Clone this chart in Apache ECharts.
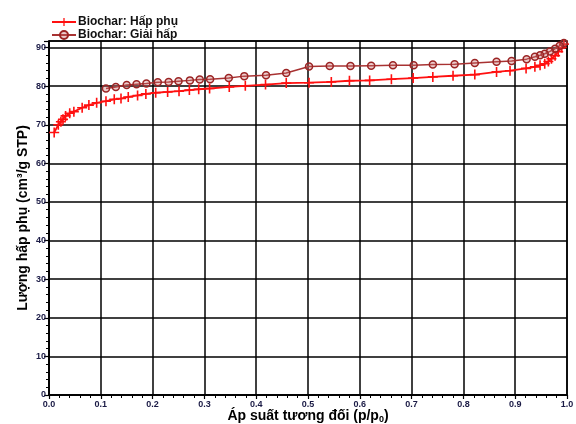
<!DOCTYPE html>
<html><head><meta charset="utf-8">
<script src="https://cdn.jsdelivr.net/npm/echarts@6/dist/echarts.min.js"></script>
<style>html,body{margin:0;padding:0;background:#fff}#c{width:576px;height:424px}</style>
</head><body><div id="c"></div>
<script>
const adsX = [0.010,0.018,0.023,0.027,0.032,0.040,0.048,0.064,0.077,0.092,0.110,0.126,0.139,0.153,0.171,0.187,0.206,0.229,0.251,0.271,0.289,0.310,0.348,0.379,0.418,0.458,0.502,0.545,0.580,0.619,0.661,0.703,0.741,0.780,0.822,0.864,0.890,0.921,0.938,0.948,0.957,0.964,0.970,0.977,0.983,0.990,0.994];
const adsY = [68.0,70.0,70.8,71.4,72.3,73.0,73.4,74.4,75.1,75.7,76.1,76.6,76.8,77.2,77.6,78.0,78.3,78.5,78.7,79.0,79.2,79.4,79.8,80.1,80.4,80.8,80.9,81.1,81.4,81.5,81.8,82.1,82.4,82.7,83.0,83.7,84.0,84.6,85.0,85.4,85.8,86.4,87.1,87.9,88.9,90.0,90.9];
const desX = [0.994,0.986,0.977,0.967,0.957,0.948,0.938,0.922,0.893,0.864,0.822,0.783,0.741,0.704,0.664,0.622,0.582,0.542,0.502,0.458,0.419,0.377,0.347,0.311,0.291,0.272,0.250,0.231,0.210,0.188,0.169,0.150,0.129,0.110];
const desY = [91.2,90.5,89.7,89.0,88.4,88.0,87.6,87.0,86.5,86.3,86.0,85.7,85.6,85.4,85.4,85.3,85.2,85.2,85.1,83.4,82.8,82.6,82.1,81.8,81.7,81.5,81.3,81.1,81.0,80.7,80.5,80.3,79.8,79.4];
const xTicks = ['0.0','0.1','0.2','0.3','0.4','0.5','0.6','0.7','0.8','0.9','1.0'];
const seriesNames = ['Biochar: Hấp phụ','Biochar: Giải hấp'];

const pair = (xs, ys) => xs.map((x, i) => [x, ys[i]]);
const plus = 'path://M-1,-0.16L1,-0.16L1,0.16L-1,0.16Z M-0.16,-1L0.16,-1L0.16,1L-0.16,1Z';
const chart = echarts.init(document.getElementById('c'), null, {renderer: 'canvas'});
const lab = {fontSize: 9, fontWeight: 'bold', color: '#1a1a45', fontFamily: 'Liberation Sans, Arial'};
chart.setOption({
  animation: false,
  backgroundColor: '#fff',
  textStyle: {fontFamily: 'Liberation Sans, Arial'},
  grid: {left: 49, right: 9, top: 41, bottom: 29, show: true, borderColor: '#000', borderWidth: 1.5,
         containLabel: false, outerBoundsMode: 'none'},
  legend: {
    orient: 'vertical', left: 46, top: 11, itemGap: 1, itemWidth: 24, itemHeight: 10,
    textStyle: {fontSize: 12, fontWeight: 'bold', color: '#111', padding: [0, 0, 0, -3]},
    data: seriesNames
  },
  xAxis: {
    type: 'value', min: 0, max: 1, interval: 0.1,
    name: 'Áp suất tương đối (p/p{s|0})', nameLocation: 'middle', nameGap: 13, nameMoveOverlap: false,
    nameTextStyle: {fontSize: 14, fontWeight: 'bold', color: '#000',
      rich: {s: {fontSize: 9, fontWeight: 'bold', color: '#000', padding: [7, 0, 0, 0]}}},
    axisLine: {lineStyle: {color: '#000', width: 1.5}},
    axisTick: {length: 4, lineStyle: {color: '#000', width: 1.2}},
    minorTick: {show: true, splitNumber: 5, length: 3, lineStyle: {color: '#000', width: 1}},
    axisLabel: Object.assign({margin: 5, formatter: v => xTicks[Math.round(v * 10)]}, lab),
    splitLine: {show: true, lineStyle: {color: '#000', width: 1.5}}
  },
  yAxis: {
    type: 'value', min: 0, max: 91.7, interval: 10,
    name: 'Lượng hấp phụ (cm³/g STP)', nameLocation: 'middle', nameGap: 19, nameRotate: 90, nameMoveOverlap: false,
    nameTextStyle: {fontSize: 14, fontWeight: 'bold', color: '#000'},
    axisLine: {lineStyle: {color: '#000', width: 1.5}},
    axisTick: {length: 5, lineStyle: {color: '#000', width: 1.2}},
    minorTick: {show: true, splitNumber: 5, length: 3, lineStyle: {color: '#000', width: 1}},
    axisLabel: Object.assign({margin: 3, showMaxLabel: false}, lab),
    splitLine: {show: true, lineStyle: {color: '#000', width: 1.5}}
  },
  series: [
    {
      name: seriesNames[0], type: 'line', data: pair(adsX, adsY),
      symbol: plus, symbolSize: 10,
      lineStyle: {color: '#ff1010', width: 1.8},
      itemStyle: {color: '#ff1010'}, z: 3
    },
    {
      name: seriesNames[1], type: 'line', data: pair(desX, desY),
      symbol: 'circle', symbolSize: 7,
      lineStyle: {color: '#a83232', width: 1.5},
      itemStyle: {color: 'rgba(200,110,110,0.35)', borderColor: '#9b2424', borderWidth: 1.5}, z: 4
    }
  ]
});
</script></body></html>
